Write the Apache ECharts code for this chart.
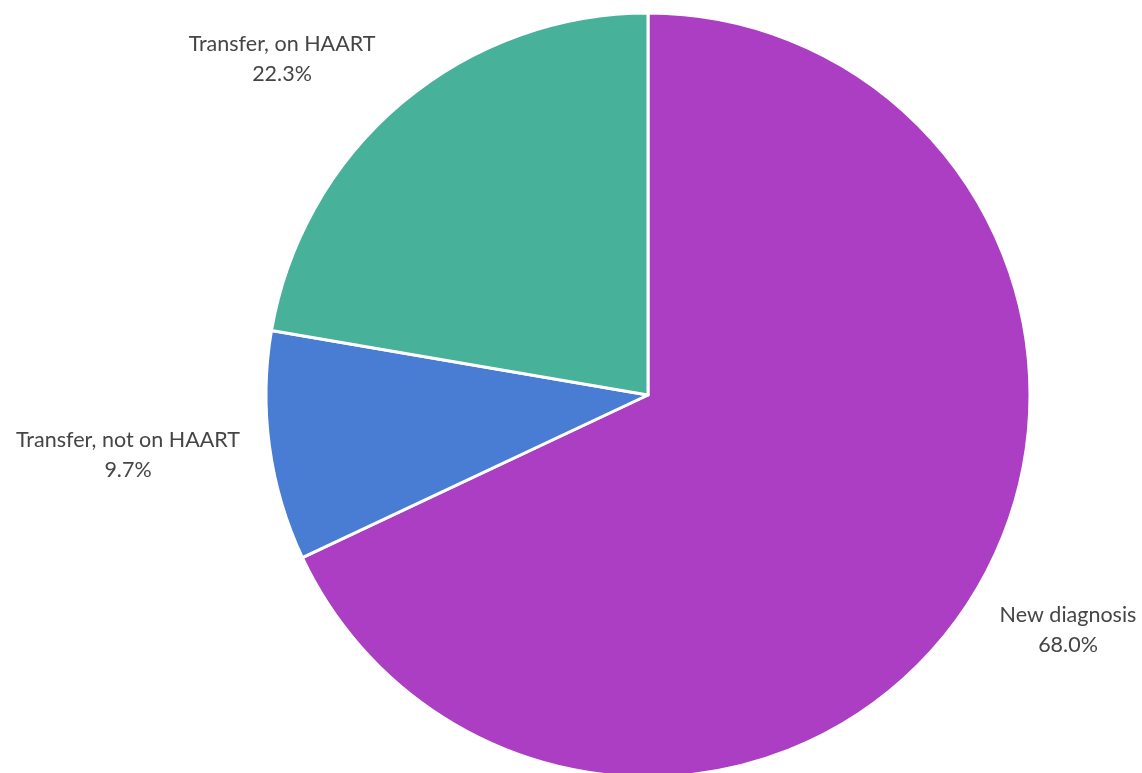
<!DOCTYPE html>
<html>
<head>
<meta charset="utf-8">
<script src="https://cdn.jsdelivr.net/npm/echarts@6/dist/echarts.min.js"></script>
<style>
  html, body { margin: 0; padding: 0; background: #ffffff; }
  #chart { width: 1142px; height: 773px; }
</style>
</head>
<body>
<div id="chart"></div>
<script>
// Patient status at enrolment (share of total, %)
const categories = ['New diagnosis', 'Transfer, not on HAART', 'Transfer, on HAART'];
const shares = [68.0, 9.7, 22.3];

const sliceColors = ['#AB3EC2', '#497CD3', '#48B199'];
// Label anchor points (centre of each two-line label)
const labelAnchors = [[1068, 630], [128, 455], [282, 59]];

const chart = echarts.init(document.getElementById('chart'), null, { renderer: 'canvas' });

chart.setOption({
  animation: false,
  backgroundColor: '#ffffff',
  series: [{
    type: 'pie',
    center: [648, 395],
    radius: 382,
    startAngle: 90,
    clockwise: true,
    avoidLabelOverlap: false,
    itemStyle: { borderColor: '#ffffff', borderWidth: 3 },
    label: {
      show: true,
      position: 'outside',
      formatter: p => p.name + '\n' + p.value.toFixed(1) + '%',
      fontFamily: 'Lato',
      fontSize: 21.5,
      lineHeight: 30,
      color: '#454545',
      align: 'center'
    },
    labelLine: { show: false },
    labelLayout: p => ({
      x: labelAnchors[p.dataIndex][0],
      y: labelAnchors[p.dataIndex][1],
      align: 'center',
      verticalAlign: 'middle'
    }),
    data: categories.map((c, i) => ({
      name: c,
      value: shares[i],
      itemStyle: { color: sliceColors[i] }
    }))
  }]
});
</script>
</body>
</html>
